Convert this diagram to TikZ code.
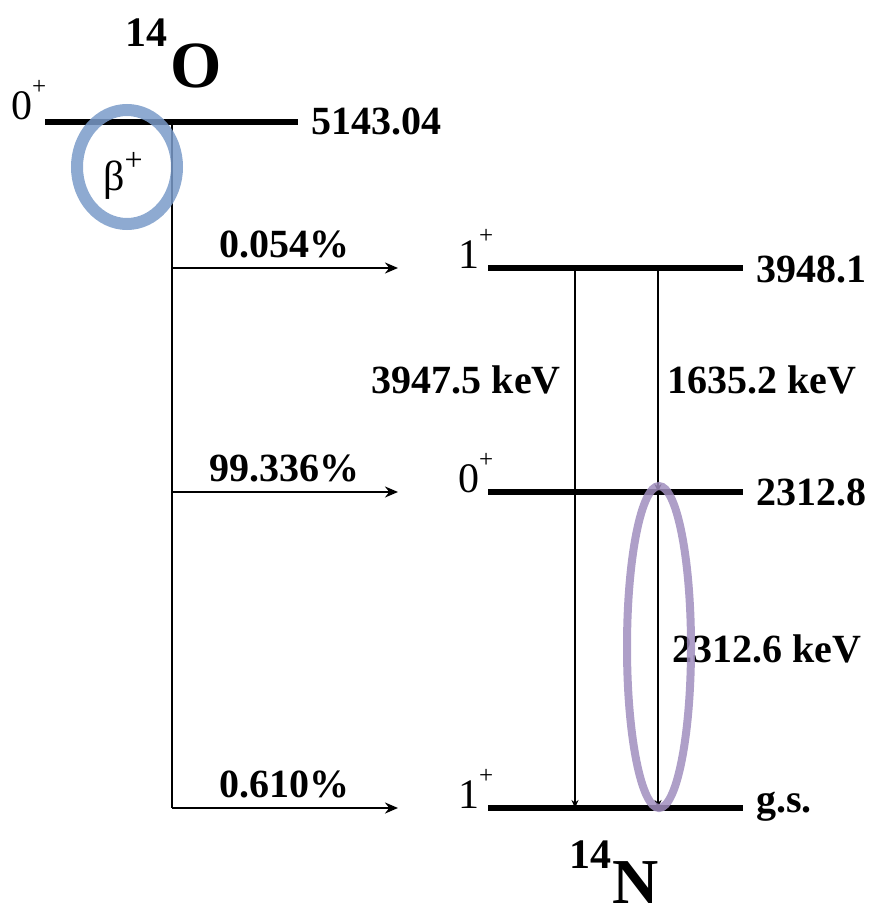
\documentclass[tikz,border=0pt]{standalone}
\usepackage{fontspec}
\setmainfont{Liberation Serif}
\usetikzlibrary{positioning, arrows.meta, calc}
\definecolor{ringblue}{RGB}{122,155,201}
\definecolor{ringviolet}{RGB}{160,142,190}
\newcommand{\spinp}[1]{#1\raisebox{25pt}{\fontsize{25}{25}\selectfont +}}

\begin{document}
\begin{tikzpicture}[x=1pt, y=-1pt, >=Stealth,
          lv/.style ={line width=6.5pt},
          fd/.style ={line width=2.5pt},
          fa/.style ={line width=2.5pt, -{Stealth[length=13pt, width=11pt]}},
          ga/.style ={line width=2.2pt, -{Stealth[length=8pt, width=7pt]}},
          nb/.style ={inner sep=0pt, font=\fontsize{40}{42}\selectfont\bfseries},
          nj/.style ={inner sep=0pt, font=\fontsize{42}{44}\selectfont},
          ring/.style={line width=12pt, draw opacity=0.85}]
        \useasboundingbox (0,0) rectangle (875,915);
        % 14O ground state
        \coordinate (o0l) at (45,122);  \coordinate (o0r) at (298,122);
        \coordinate (dk) at (172,122);
        \draw[lv] (o0l) -- (o0r);
        \node[nj, anchor=base west] (o0j) at (11,120) {\spinp{0}};
        \node[nb, anchor=base west] (o0e) at (311,135) {5143.04};
        \node[inner sep=0pt, anchor=base east, font=\fontsize{42}{44}\selectfont\bfseries] (o14) at (168,47) {14};
        \node[inner sep=0pt, anchor=base west, font=\fontsize{66}{70}\selectfont\bfseries] (oO) at (170,88) {O};
        % 14N levels
        \coordinate (n2l) at (488,268); \coordinate (n2r) at (743,268);
        \coordinate (n1l) at (488,492); \coordinate (n1r) at (743,492);
        \coordinate (n0l) at (488,808); \coordinate (n0r) at (743,808);
        \draw[lv] (n2l) -- (n2r);
        \draw[lv] (n1l) -- (n1r);
        \draw[lv] (n0l) -- (n0r);
        \node[nj, anchor=base west] (n2j) at (458,268) {\spinp{1}};
        \node[nj, anchor=base west] (n1j) at (458,492) {\spinp{0}};
        \node[nj, anchor=base west] (n0j) at (458,808) {\spinp{1}};
        \node[nb, anchor=base west] (n2e) at (756,282) {3948.1};
        \node[nb, anchor=base west] (n1e) at (756,505) {2312.8};
        \node[nb, anchor=base west] (n0e) at (756,812) {g.s.};
        \node[inner sep=0pt, anchor=base east, font=\fontsize{42}{44}\selectfont\bfseries] (n14) at (612,868) {14};
        \node[inner sep=0pt, anchor=base west, font=\fontsize{64}{68}\selectfont\bfseries] (nN) at (612,903) {N};
        % beta feeding
        \coordinate (t2) at (398,268); \coordinate (t1) at (398,492); \coordinate (t0) at (398,808);
        \draw[fd] (dk) -- (dk |- t0);
        \draw[fa] (dk |- t2) -- (t2);
        \draw[fa] (dk |- t1) -- (t1);
        \draw[fa] (dk |- t0) -- (t0);
        \node[nb, anchor=base] (b2) at (284,257) {0.054\%};
        \node[nb, anchor=base] (b1) at (284,481) {99.336\%};
        \node[nb, anchor=base] (b0) at (284,797) {0.610\%};
        \node[nj, anchor=base west] (bt) at (103,190) {β\raisebox{20pt}{\fontsize{32}{32}\selectfont +}};
        % gamma rays
        \coordinate (gA) at (575,268); \coordinate (gB) at (658,268);
        \draw[ga] (gA) -- (gA |- n0l);
        \draw[ga] (gB) -- (gB |- n1l);
        \draw[ga] (gB |- n1l) -- (gB |- n0l);
        \node[nb, anchor=base east] (gAl) at (561,393) {3947.5 keV};
        \node[nb, anchor=base west] (gBl) at (667,393) {1635.2 keV};
        \node[nb, anchor=base west] (gCl) at (672,662) {2312.6 keV};
        % highlight rings
        \draw[ring, ringblue] (127,167) ellipse [x radius=50, y radius=57];
        \draw[ring, ringviolet, line width=8pt] (659,647) ellipse [x radius=32, y radius=161];
      \end{tikzpicture}
\end{document}
